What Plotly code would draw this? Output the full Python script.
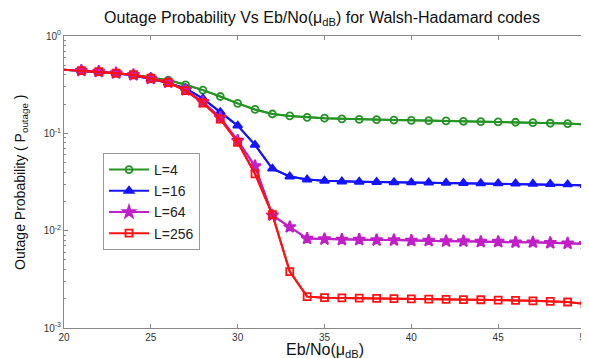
import plotly.graph_objects as go

ebno = list(range(20, 51))

p_L4 = [0.45, 0.44, 0.43, 0.415, 0.40, 0.375, 0.352, 0.315, 0.278, 0.239, 0.203,
        0.176, 0.158, 0.151, 0.146, 0.143, 0.141, 0.139, 0.138, 0.137, 0.136,
        0.135, 0.134, 0.133, 0.132, 0.131, 0.130, 0.129, 0.127, 0.126, 0.123]
p_L16 = [0.45, 0.44, 0.43, 0.413, 0.395, 0.36, 0.33, 0.29, 0.228, 0.165, 0.12,
         0.076, 0.0433, 0.036, 0.0335, 0.0325, 0.032, 0.0318, 0.0316, 0.0314, 0.0313,
         0.0312, 0.031, 0.0309, 0.0307, 0.0306, 0.0305, 0.0303, 0.0301, 0.0299, 0.0293]
p_L64 = [0.45, 0.44, 0.43, 0.415, 0.398, 0.365, 0.333, 0.28, 0.21, 0.145, 0.084,
         0.046, 0.0144, 0.0109, 0.0083, 0.0082, 0.0081, 0.0081, 0.0080, 0.0080, 0.0079,
         0.0079, 0.0078, 0.0078, 0.0077, 0.0077, 0.0076, 0.0076, 0.0075, 0.0074, 0.0073]
p_L256 = [0.45, 0.44, 0.43, 0.415, 0.40, 0.368, 0.333, 0.275, 0.205, 0.14, 0.081,
          0.0384, 0.0146, 0.0038, 0.0021, 0.00205, 0.00204, 0.00203, 0.00202, 0.0020, 0.00199,
          0.00198, 0.00197, 0.00196, 0.00195, 0.00193, 0.00192, 0.0019, 0.00188, 0.00185, 0.00177]

series_names = ["L=4", "L=16", "L=64", "L=256"]
x_ticks = [20, 25, 30, 35, 40, 45, 50]
y_tickvals = [1e-3, 1e-2, 1e-1, 1]
y_ticktext = ["10<sup>-3</sup>", "10<sup>-2</sup>", "10<sup>-1</sup>", "10<sup>0</sup>"]

title_text = "Outage Probability Vs Eb/No(\u03bc<sub>dB</sub>) for Walsh-Hadamard codes"
x_title = "Eb/No(\u03bc<sub>dB</sub>)"
y_title = "Outage Probability ( P<sub>outage</sub> )"

styles = [
    dict(color="#259425", symbol="circle-open", size=7),
    dict(color="#1414ff", symbol="triangle-up", size=8),
    dict(color="#c21fc8", symbol="star", size=9),
    dict(color="#ff1010", symbol="square-open", size=7),
]

minor_vals = [m * 10.0 ** e for e in (-3, -2, -1) for m in range(2, 10)]

fig = go.Figure()
for name, vals, st in zip(series_names, [p_L4, p_L16, p_L64, p_L256], styles):
    # first point (x=20) carries only the line, as in the reference
    fig.add_trace(go.Scatter(
        x=ebno, y=vals, name=name, mode="lines",
        line=dict(color=st["color"], width=2), showlegend=False, legendgroup=name,
        hoverinfo="skip",
    ))
    fig.add_trace(go.Scatter(
        x=ebno[1:], y=vals[1:], name=name, mode="lines+markers", legendgroup=name,
        line=dict(color=st["color"], width=2),
        marker=dict(symbol=st["symbol"], size=st["size"], color=st["color"],
                    line=dict(color=st["color"], width=1.8)),
        cliponaxis=False,
    ))

# the page body adds an 8px offset, so the figure is laid out 8px smaller
W, H = 581, 350
font = "Liberation Sans, Arial, sans-serif"
fig.update_layout(
    width=W, height=H,
    margin=dict(l=56, r=4, t=28, b=30, autoexpand=False),
    paper_bgcolor="white", plot_bgcolor="white",
    font=dict(family=font, color="#222"),
    title=dict(text=title_text, x=314 / W, xanchor="center", y=1 - 9 / H, yanchor="middle",
               font=dict(size=16, family=font, color="#111")),
    showlegend=True,
    legend=dict(x=(103 - 64) / 521, y=1 - (153 - 36) / 292, xanchor="left", yanchor="top",
                bgcolor="white", bordercolor="#999", borderwidth=1,
                font=dict(size=14, family=font, color="#222"),
                tracegroupgap=0, itemwidth=40),
    annotations=[
        dict(text=x_title, xref="paper", yref="paper", x=0.5, y=(328 - 350) / 292,
             xanchor="center", yanchor="middle", showarrow=False,
             font=dict(size=16, family=font, color="#111")),
        dict(text=y_title, xref="paper", yref="paper", x=(21 - 64) / 521, y=0.5,
             xanchor="center", yanchor="middle", showarrow=False, textangle=-90,
             font=dict(size=14, family=font, color="#111")),
    ],
)
fig.update_xaxes(
    range=[20, 50], tickvals=x_ticks, ticks="inside", ticklen=4, tickcolor="#888",
    showline=True, linecolor="#888", linewidth=1, mirror="ticks", showgrid=False, zeroline=False,
    tickfont=dict(size=10, color="#333"), automargin=False, ticklabeloverflow="allow",
)
fig.update_yaxes(
    type="log", range=[-3, 0], tickvals=y_tickvals, ticktext=y_ticktext,
    ticks="inside", ticklen=4, tickcolor="#888",
    minor=dict(tickmode="array", tickvals=minor_vals, ticks="inside", ticklen=2,
               tickcolor="#888", showgrid=False),
    showline=True, linecolor="#888", linewidth=1, mirror="ticks", showgrid=False, zeroline=False,
    tickfont=dict(size=10, color="#333"), automargin=False, ticklabeloverflow="allow",
)

fig.write_html("out.html")
